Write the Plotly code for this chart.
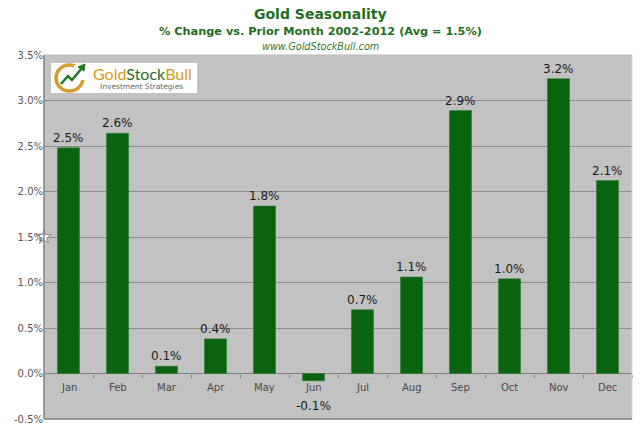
import plotly.graph_objects as go

# Monthly gold % change vs prior month, 2002-2012
months = ['Jan', 'Feb', 'Mar', 'Apr', 'May', 'Jun', 'Jul', 'Aug', 'Sep', 'Oct', 'Nov', 'Dec']
pct_change = [2.48, 2.64, 0.08, 0.38, 1.84, -0.08, 0.70, 1.06, 2.89, 1.04, 3.24, 2.12]
avg_change = 1.5
y_ticks = [-0.5, 0.0, 0.5, 1.0, 1.5, 2.0, 2.5, 3.0, 3.5]

font_family = 'DejaVu Sans'
green = '#0a640f'
title_green = '#1f6e22'

# plot area in pixels: x 44..632, y 55..419
L, R, T, B = 44, 632, 55, 419


def px(x):
    return (x - L) / (R - L)


def py(y):
    return (B - y) / (B - T)


fig = go.Figure()

fig.add_trace(go.Bar(
    x=months, y=pct_change,
    marker=dict(color=green, line=dict(color='#2f7f2f', width=0.6)),
    showlegend=False, hoverinfo='x+y',
))

# average marker (star on the value axis), on a hidden numeric axis
fig.add_trace(go.Scatter(
    x=[-0.5], y=[avg_change], mode='markers', xaxis='x2',
    marker=dict(symbol='star', size=11, color='white', line=dict(color='#8a8a8a', width=1)),
    cliponaxis=False, showlegend=False, hoverinfo='skip',
))

# value labels and month labels
for m, v in zip(months, pct_change):
    if v >= 0:
        fig.add_annotation(x=m, y=v, text=f'{v:.1f}%', showarrow=False, yanchor='bottom', yshift=1,
                           font=dict(family=font_family, size=12, color='#1a1a1a'))
    else:
        fig.add_annotation(x=m, y=v, text=f'{v:.1f}%', showarrow=False, yanchor='top', yshift=-16,
                           font=dict(family=font_family, size=12, color='#1a1a1a'))
    fig.add_annotation(x=m, y=0, text=m, showarrow=False, yanchor='top', yshift=-6,
                       font=dict(family=font_family, size=10, color='#4a4a4a'))

# logo box
fig.add_shape(type='rect', xref='paper', yref='paper',
              x0=px(51), x1=px(197), y0=py(93), y1=py(63),
              fillcolor='white', line=dict(width=0))
fig.add_shape(type='circle', xref='paper', yref='paper',
              x0=px(56), x1=px(83), y0=py(91), y1=py(65),
              line=dict(color='#d2a02a', width=3.5))
fig.add_shape(type='rect', xref='paper', yref='paper',
              x0=px(74), x1=px(86), y0=py(80), y1=py(65),
              fillcolor='white', line=dict(width=0))
fig.add_shape(type='path', xref='paper', yref='paper',
              path=f'M {px(61)},{py(84)} L {px(68)},{py(76)} L {px(72)},{py(80)} L {px(82)},{py(68)}',
              line=dict(color='#1e7a1e', width=2.5))
fig.add_shape(type='path', xref='paper', yref='paper',
              path=f'M {px(78)},{py(67)} L {px(85)},{py(64)} L {px(84)},{py(71)} Z',
              fillcolor='#1e7a1e', line=dict(color='#1e7a1e', width=1))
fig.add_annotation(xref='paper', yref='paper', x=px(142), y=py(73),
                   text="<span style='color:#d49a1e'>Gold</span><span style='color:#2e6b2e'>Stock</span>"
                        "<span style='color:#d49a1e'>Bull</span>",
                   showarrow=False, xanchor='center', yanchor='middle',
                   font=dict(family='Lato', size=16))
fig.add_annotation(xref='paper', yref='paper', x=px(141), y=py(86.5),
                   text='Investment Strategies', showarrow=False, xanchor='center', yanchor='middle',
                   font=dict(family=font_family, size=7.5, color='#666666'))

# titles
fig.add_annotation(xref='paper', yref='paper', x=px(320), y=py(14),
                   text='<b>Gold Seasonality</b>', showarrow=False, xanchor='center', yanchor='middle',
                   font=dict(family=font_family, size=14, color=title_green))
fig.add_annotation(xref='paper', yref='paper', x=px(320), y=py(31),
                   text='<b>% Change vs. Prior Month 2002-2012 (Avg = 1.5%)</b>', showarrow=False,
                   xanchor='center', yanchor='middle',
                   font=dict(family=font_family, size=11.3, color=title_green))
fig.add_annotation(xref='paper', yref='paper', x=px(320), y=py(46),
                   text='<i>www.GoldStockBull.com</i>', showarrow=False, xanchor='center', yanchor='middle',
                   font=dict(family=font_family, size=9.7, color='#2f7a2f'))

# plot frame
fig.add_shape(type='line', xref='paper', yref='paper', x0=1, x1=1, y0=0, y1=1,
              line=dict(color='#dddddd', width=1))
fig.add_shape(type='line', xref='paper', yref='paper', x0=0, x1=1, y0=1, y1=1,
              line=dict(color='#bbbbbb', width=1))
fig.add_shape(type='line', xref='paper', yref='paper', x0=0, x1=0, y0=0, y1=1,
              line=dict(color='#808080', width=1.5))
fig.add_shape(type='line', xref='paper', yref='paper', x0=0, x1=1, y0=0, y1=0,
              line=dict(color='#808080', width=1.5))

fig.update_layout(
    width=640, height=432,
    margin=dict(l=L, r=640 - R, t=T, b=432 - B),
    paper_bgcolor='white',
    plot_bgcolor='#c2c2c2',
    bargap=0.55,
    xaxis=dict(
        type='category', range=[-0.5, 11.5], showticklabels=False,
        showgrid=False, zeroline=False,
        showline=False, anchor='free', position=0.125,
        ticks='outside', tickson='boundaries', ticklen=3, tickcolor='#808080',
    ),
    xaxis2=dict(range=[-0.5, 11.5], overlaying='x', visible=False),
    yaxis=dict(
        range=[-0.5, 3.5], tickvals=y_ticks,
        ticktext=[f'{v:.1f}%' for v in y_ticks],
        showgrid=True, gridcolor='#8c8c8c', gridwidth=1,
        zeroline=True, zerolinecolor='#808080', zerolinewidth=1,
        ticks='', tickfont=dict(family=font_family, size=10, color='#555555'),
    ),
)

fig.write_html('out.html', config={'displayModeBar': False},
               post_script="document.body.style.margin='0';")
